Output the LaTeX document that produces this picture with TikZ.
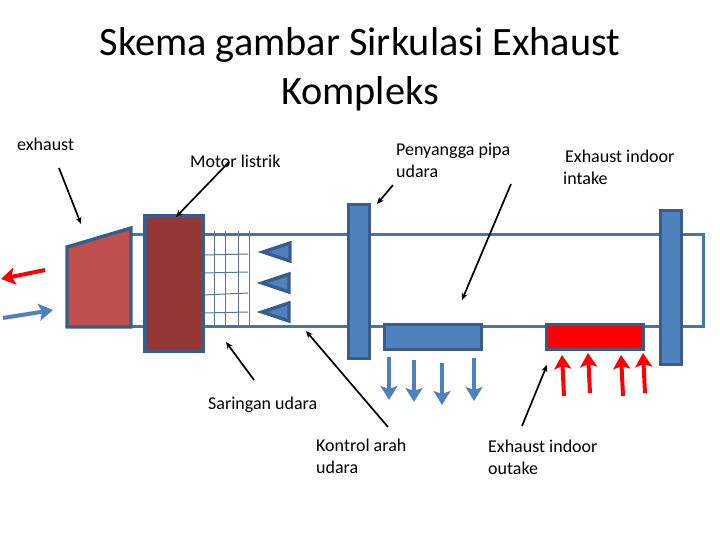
\documentclass[tikz,border=0pt]{standalone}
\usepackage{fontspec}
\setmainfont{Carlito}
\usetikzlibrary{arrows.meta, positioning, calc}
\definecolor{pipablue}{HTML}{4F81BD}
\definecolor{tepiblue}{HTML}{385D8A}
\definecolor{mesinred}{HTML}{C0504D}
\definecolor{motorred}{HTML}{953735}

\begin{document}
\begin{tikzpicture}[
  x=1pt, y=-1pt,
  font=\fontsize{18}{21.5}\selectfont,
  label/.style={align=left, inner sep=0pt, anchor=north west},
  blok/.style={draw=tepiblue, line width=3.4pt, inner sep=0pt, outer sep=0pt},
  pipa/.style={draw=pipablue!90!black, line width=3pt},
  saring/.style={draw=tepiblue!85, line width=1pt},
  penunjuk/.style={draw=black, line width=1.7pt, -{Stealth[length=7pt,width=6pt]}},
  aliranbiru/.style={draw=pipablue, line width=4pt, -{Stealth[length=14pt,width=17pt,inset=3pt]}},
  aliranmerah/.style={draw=red, line width=4pt, -{Stealth[length=14pt,width=17pt,inset=3pt]}},
  kipas/.style={draw=tepiblue, fill=pipablue, line width=3.4pt, line join=miter}
]
\useasboundingbox (0,0) rectangle (720,540);

% judul
\node[align=center, font=\fontsize{40.3}{49}\selectfont] (judul) at (360,69)
  {Skema gambar Sirkulasi Exhaust\\Kompleks};

% pipa
\coordinate (pipaA) at (130,234);
\coordinate (pipaB) at (703,234);
\coordinate (pipaC) at (703,326);
\coordinate (pipaD) at (130,326);
\draw[pipa] (pipaA) -- (pipaB) -- (pipaC) -- (pipaD);

% saringan
\foreach \x in {214,225,238,249} {
  \draw[saring] (\x,231) -- (\x,327);
}
\foreach \y/\z in {255/254,273/272,295/293,313/312} {
  \draw[saring] (203,\y) -- (248,\z);
}

% kipas
\foreach \a/\y in {263/252,262/283,262/312} {
  \draw[kipas] (\a,\y) -- (\a+27,\y-9) -- (\a+27,\y+9) -- cycle;
}

% komponen
\draw[blok, fill=mesinred] (67,247) -- (131,228) -- (131,327) -- (67,327) -- cycle;
\node[blok, fill=motorred, minimum width=58pt, minimum height=135pt] (motor) at (174,283.5) {};
\node[blok, fill=pipablue, minimum width=21pt, minimum height=154pt] (penyanggaA) at (359,281.5) {};
\node[blok, fill=pipablue, minimum width=21pt, minimum height=154pt] (penyanggaB) at (671,287.5) {};
\node[blok, fill=pipablue, minimum width=97pt, minimum height=25pt] (kontrol) at (433,337) {};
\node[blok, fill=red, minimum width=97pt, minimum height=25pt] (indoor) at (595,337) {};

% teks
\node[label] (exhaust) at (17,138) {exhaust};
\node[label] (tmotor) at (190,155) {Motor listrik};
\node[label] (tpenyangga) at (396,143) {Penyangga pipa\\udara};
\node[label] (tintake) at (563,150) {\kern2pt Exhaust indoor\\intake};
\node[label] (tsaringan) at (208,397) {Saringan udara};
\node[label] (tkontrol) at (316,439) {Kontrol arah\\udara};
\node[label] (toutake) at (488,440) {Exhaust indoor\\outake};

% penunjuk
\foreach \n/\xa/\ya/\xb/\yb in {a/59/168/81/224, b/229/162/176/217, c/393/185/377/204,
    d/511/184/462/300, e/254/380/226/342, f/388/427/306/331, g/522/426/547/365} {
  \coordinate (p\n) at (\xa,\ya);
  \coordinate (q\n) at (\xb,\yb);
  \draw[penunjuk] (p\n) -- (q\n);
}

% aliran
\coordinate (keluarA) at (45,270);
\coordinate (keluarB) at (1,279);
\coordinate (masukA) at (3,318);
\coordinate (masukB) at (53,310);
\draw[aliranmerah] (keluarA) -- (keluarB);
\draw[aliranbiru] (masukA) -- (masukB);
\foreach \n/\x/\ya/\yb in {1/389/357/400, 2/414/360/402, 3/442/363/405, 4/474/358/401} {
  \coordinate (ba\n) at (\x,\ya);
  \coordinate (bb\n) at (\x,\yb);
  \draw[aliranbiru] (ba\n) -- (bb\n);
}
\foreach \n/\xa/\ya/\xb/\yb in {1/564/396/562/355, 2/590/393/588/353, 3/623/396/621/355, 4/645/393/643/353} {
  \coordinate (ma\n) at (\xa,\ya);
  \coordinate (mb\n) at (\xb,\yb);
  \draw[aliranmerah] (ma\n) -- (mb\n);
}

\end{tikzpicture}
\end{document}
